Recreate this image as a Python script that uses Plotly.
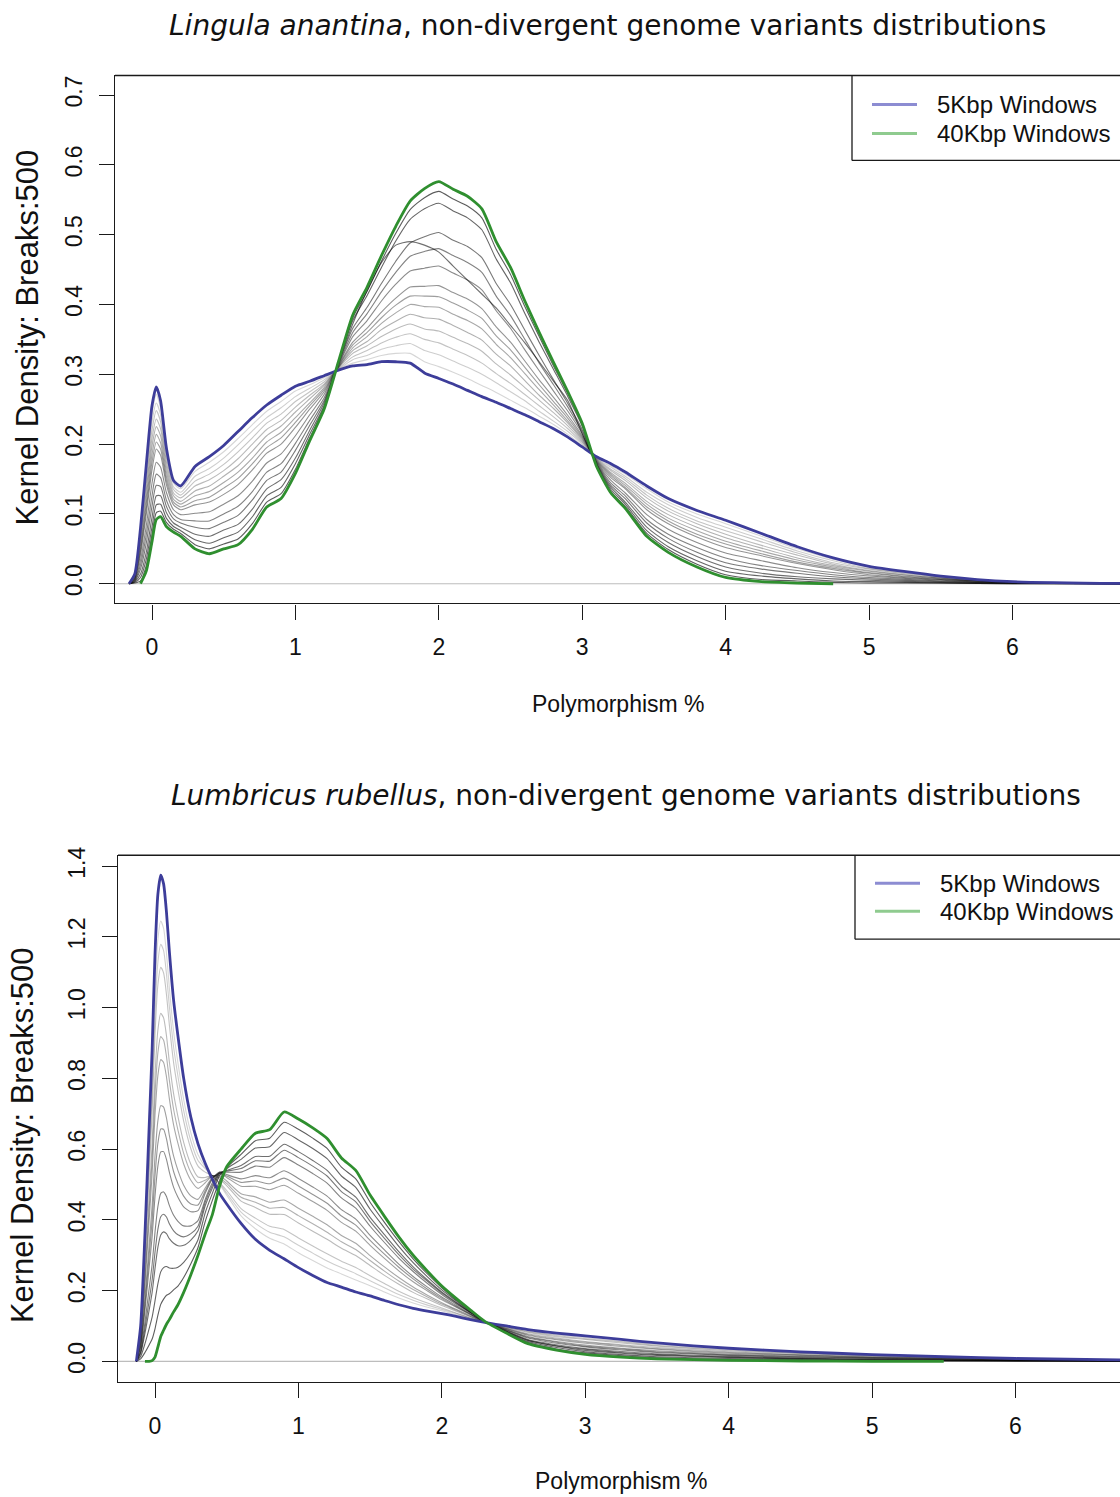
import plotly.graph_objects as go

W, H = 1120, 1497

# ---------------- Lingula anantina ----------------
LA_X = [-0.16, -0.12, -0.08, -0.04, 0.0, 0.03, 0.06, 0.1, 0.15, 0.2, 0.3, 0.4, 0.5, 0.6, 0.7,
        0.8, 0.9, 1.0, 1.1, 1.2, 1.3, 1.4, 1.5, 1.6, 1.7, 1.8, 1.9, 2.0, 2.1, 2.2, 2.3, 2.4,
        2.5, 2.6, 2.7, 2.8, 2.9, 3.0, 3.1, 3.2, 3.3, 3.45, 3.6, 3.8, 4.0, 4.25, 4.5, 4.75,
        5.0, 5.5, 6.0, 6.76]
LA_5K = [0.0, 0.014, 0.08, 0.17, 0.255, 0.282, 0.262, 0.195, 0.148, 0.14, 0.168, 0.182, 0.198,
         0.218, 0.238, 0.256, 0.27, 0.283, 0.29, 0.298, 0.306, 0.312, 0.314, 0.318, 0.318, 0.316,
         0.302, 0.294, 0.286, 0.277, 0.268, 0.26, 0.251, 0.242, 0.232, 0.222, 0.21, 0.196, 0.182,
         0.172, 0.16, 0.14, 0.122, 0.105, 0.091, 0.072, 0.053, 0.037, 0.025, 0.011, 0.003, 0.0005]
LA_40K = [None, None, 0.0, 0.018, 0.06, 0.092, 0.096, 0.082, 0.074, 0.068, 0.05, 0.043, 0.05,
          0.056, 0.078, 0.11, 0.122, 0.158, 0.205, 0.25, 0.318, 0.385, 0.425, 0.47, 0.512, 0.548,
          0.566, 0.576, 0.565, 0.555, 0.537, 0.49, 0.453, 0.405, 0.36, 0.317, 0.275, 0.23, 0.168,
          0.13, 0.108, 0.068, 0.045, 0.024, 0.009, 0.003, 0.001, 0.0, None, None, None, None]
# intermediate window sizes, smallest to largest
LA_MID = [
    [0, 0.013, 0.075, 0.161, 0.243, 0.271, 0.252, 0.188, 0.144, 0.136, 0.161, 0.174, 0.189, 0.208,
     0.228, 0.247, 0.261, 0.276, 0.285, 0.295, 0.307, 0.316, 0.321, 0.327, 0.33, 0.33, 0.318,
     0.311, 0.303, 0.294, 0.284, 0.274, 0.263, 0.252, 0.24, 0.228, 0.214, 0.198, 0.181, 0.169,
     0.157, 0.136, 0.117, 0.1, 0.086, 0.068, 0.05, 0.035, 0.024, 0.01, 0.003, 0.0],
    [0, 0.012, 0.070, 0.152, 0.232, 0.259, 0.242, 0.181, 0.139, 0.131, 0.154, 0.165, 0.18, 0.199,
     0.219, 0.238, 0.252, 0.268, 0.28, 0.292, 0.307, 0.321, 0.327, 0.336, 0.341, 0.344, 0.334,
     0.328, 0.319, 0.31, 0.3, 0.288, 0.275, 0.262, 0.247, 0.233, 0.218, 0.2, 0.18, 0.167, 0.154,
     0.131, 0.113, 0.095, 0.081, 0.064, 0.047, 0.033, 0.022, 0.01, 0.003, 0.0],
    [0, 0.011, 0.066, 0.143, 0.22, 0.248, 0.232, 0.175, 0.135, 0.127, 0.147, 0.157, 0.171, 0.189,
     0.209, 0.23, 0.243, 0.261, 0.275, 0.289, 0.308, 0.325, 0.334, 0.345, 0.353, 0.358, 0.35,
     0.345, 0.336, 0.327, 0.316, 0.301, 0.287, 0.271, 0.255, 0.239, 0.222, 0.202, 0.18, 0.164,
     0.151, 0.127, 0.108, 0.09, 0.076, 0.06, 0.044, 0.03, 0.021, 0.009, 0.002, 0.0],
    [0, 0.011, 0.061, 0.134, 0.208, 0.236, 0.222, 0.168, 0.130, 0.123, 0.140, 0.149, 0.162, 0.179,
     0.2, 0.221, 0.234, 0.253, 0.27, 0.286, 0.309, 0.33, 0.341, 0.354, 0.365, 0.372, 0.365, 0.362,
     0.353, 0.344, 0.333, 0.315, 0.299, 0.281, 0.263, 0.245, 0.226, 0.204, 0.179, 0.162, 0.148,
     0.123, 0.104, 0.086, 0.071, 0.055, 0.041, 0.028, 0.019, 0.008, 0.002, 0.0],
    [0, 0.01, 0.056, 0.124, 0.197, 0.225, 0.212, 0.161, 0.126, 0.118, 0.133, 0.14, 0.154, 0.169,
     0.19, 0.212, 0.226, 0.246, 0.265, 0.284, 0.31, 0.334, 0.347, 0.364, 0.376, 0.386, 0.381,
     0.379, 0.37, 0.36, 0.349, 0.329, 0.312, 0.291, 0.27, 0.251, 0.23, 0.206, 0.178, 0.159, 0.144,
     0.118, 0.099, 0.081, 0.066, 0.051, 0.037, 0.026, 0.018, 0.008, 0.002, 0.0],
    [0, 0.009, 0.051, 0.115, 0.185, 0.214, 0.202, 0.154, 0.121, 0.114, 0.126, 0.132, 0.145, 0.16,
     0.18, 0.203, 0.217, 0.238, 0.259, 0.281, 0.31, 0.338, 0.354, 0.373, 0.388, 0.4, 0.397, 0.396,
     0.386, 0.377, 0.365, 0.343, 0.324, 0.301, 0.278, 0.256, 0.233, 0.208, 0.177, 0.157, 0.141,
     0.114, 0.094, 0.076, 0.061, 0.047, 0.034, 0.024, 0.016, 0.007, 0.002, 0.0],
    [0, 0.008, 0.047, 0.107, 0.174, 0.203, 0.193, 0.148, 0.117, 0.11, 0.119, 0.124, 0.137, 0.151,
     0.172, 0.195, 0.209, 0.231, 0.255, 0.278, 0.311, 0.342, 0.36, 0.381, 0.399, 0.412, 0.412,
     0.411, 0.402, 0.392, 0.38, 0.355, 0.335, 0.31, 0.285, 0.261, 0.237, 0.21, 0.176, 0.155, 0.138,
     0.11, 0.09, 0.071, 0.057, 0.043, 0.031, 0.022, 0.015, 0.006, 0.002, 0.0],
    [0, 0.007, 0.042, 0.099, 0.163, 0.193, 0.184, 0.142, 0.113, 0.106, 0.113, 0.117, 0.128, 0.142,
     0.163, 0.187, 0.2, 0.224, 0.25, 0.275, 0.312, 0.346, 0.366, 0.389, 0.409, 0.425, 0.426, 0.427,
     0.417, 0.408, 0.394, 0.368, 0.346, 0.319, 0.292, 0.267, 0.241, 0.212, 0.175, 0.152, 0.136,
     0.106, 0.086, 0.067, 0.052, 0.04, 0.029, 0.02, 0.013, 0.006, 0.002, 0.0],
    [0, 0.006, 0.034, 0.083, 0.144, 0.174, 0.167, 0.131, 0.106, 0.099, 0.101, 0.103, 0.114, 0.126,
     0.147, 0.173, 0.186, 0.212, 0.242, 0.271, 0.313, 0.354, 0.377, 0.405, 0.429, 0.448, 0.452,
     0.455, 0.445, 0.435, 0.421, 0.391, 0.366, 0.335, 0.305, 0.276, 0.247, 0.215, 0.174, 0.148,
     0.13, 0.099, 0.078, 0.059, 0.044, 0.033, 0.023, 0.016, 0.011, 0.005, 0.001, 0.0],
    [0, 0.005, 0.027, 0.07, 0.126, 0.157, 0.152, 0.12, 0.099, 0.092, 0.09, 0.09, 0.1, 0.111, 0.132,
     0.16, 0.172, 0.201, 0.234, 0.266, 0.314, 0.36, 0.387, 0.418, 0.446, 0.469, 0.476, 0.48, 0.47,
     0.46, 0.446, 0.412, 0.384, 0.35, 0.316, 0.285, 0.253, 0.218, 0.173, 0.144, 0.126, 0.092,
     0.071, 0.052, 0.037, 0.026, 0.019, 0.013, 0.009, 0.004, 0.001, 0.0],
    [0, 0.004, 0.021, 0.058, 0.111, 0.141, 0.139, 0.111, 0.093, 0.087, 0.081, 0.079, 0.088, 0.098,
     0.12, 0.148, 0.16, 0.191, 0.227, 0.262, 0.315, 0.366, 0.396, 0.43, 0.462, 0.488, 0.497, 0.503,
     0.492, 0.483, 0.467, 0.43, 0.4, 0.363, 0.327, 0.292, 0.258, 0.221, 0.172, 0.141, 0.122, 0.087,
     0.065, 0.045, 0.03, 0.021, 0.015, 0.01, 0.007, 0.003, 0.001, 0.0],
    [0, 0.003, 0.014, 0.045, 0.095, 0.126, 0.126, 0.102, 0.087, 0.081, 0.071, 0.068, 0.077, 0.085,
     0.107, 0.136, 0.149, 0.18, 0.22, 0.259, 0.316, 0.372, 0.42, 0.46, 0.485, 0.49, 0.485, 0.475,
     0.455, 0.435, 0.415, 0.395, 0.37, 0.345, 0.318, 0.29, 0.262, 0.215, 0.171, 0.138, 0.117,
     0.081, 0.059, 0.039, 0.024, 0.015, 0.01, 0.007, 0.005, 0.002, 0.001, 0.0],
    [0, 0.002, 0.009, 0.035, 0.081, 0.113, 0.114, 0.094, 0.082, 0.076, 0.063, 0.058, 0.066, 0.074,
     0.096, 0.126, 0.138, 0.172, 0.214, 0.255, 0.317, 0.377, 0.413, 0.453, 0.491, 0.522, 0.537,
     0.545, 0.534, 0.524, 0.507, 0.465, 0.431, 0.387, 0.346, 0.307, 0.268, 0.226, 0.17, 0.135,
     0.114, 0.076, 0.053, 0.033, 0.018, 0.011, 0.007, 0.004, 0.003, 0.001, 0.0, 0.0],
    [0, 0.001, 0.004, 0.026, 0.07, 0.102, 0.104, 0.088, 0.078, 0.072, 0.056, 0.05, 0.057, 0.064,
     0.086, 0.117, 0.129, 0.164, 0.209, 0.252, 0.317, 0.381, 0.419, 0.462, 0.502, 0.536, 0.553,
     0.562, 0.551, 0.541, 0.524, 0.479, 0.443, 0.397, 0.354, 0.312, 0.272, 0.228, 0.169, 0.132,
     0.111, 0.072, 0.049, 0.028, 0.013, 0.006, 0.004, 0.002, 0.001, 0.001, 0.0, 0.0],
]
LA_YTICKS = [0.0, 0.1, 0.2, 0.3, 0.4, 0.5, 0.6, 0.7]

# ---------------- Lumbricus rubellus ----------------
LR_X = [-0.13, -0.1, -0.07, -0.04, -0.02, 0.0, 0.02, 0.04, 0.06, 0.08, 0.1, 0.13, 0.16, 0.2,
        0.25, 0.3, 0.35, 0.4, 0.45, 0.5, 0.6, 0.7, 0.8, 0.9, 1.0, 1.1, 1.2, 1.3, 1.4, 1.5, 1.6,
        1.7, 1.8, 1.9, 2.0, 2.1, 2.2, 2.3, 2.45, 2.6, 2.8, 3.0, 3.25, 3.5, 4.0, 4.5, 5.0, 5.5,
        6.0, 6.76]
LR_5K = [0.0, 0.1, 0.36, 0.67, 0.88, 1.15, 1.32, 1.375, 1.35, 1.27, 1.16, 1.02, 0.92, 0.8, 0.69,
         0.615, 0.56, 0.515, 0.475, 0.445, 0.39, 0.345, 0.314, 0.29, 0.265, 0.243, 0.223, 0.21,
         0.196, 0.185, 0.172, 0.16, 0.15, 0.142, 0.135, 0.127, 0.118, 0.11, 0.1, 0.09, 0.08, 0.072,
         0.062, 0.052, 0.037, 0.027, 0.019, 0.013, 0.008, 0.004]
LR_40K = [None, None, 0.0, 0.0, 0.002, 0.012, 0.04, 0.07, 0.088, 0.105, 0.118, 0.14, 0.16, 0.195,
          0.245, 0.3, 0.36, 0.415, 0.495, 0.55, 0.6, 0.645, 0.655, 0.705, 0.685, 0.66, 0.63, 0.575,
          0.54, 0.47, 0.41, 0.352, 0.3, 0.255, 0.213, 0.178, 0.145, 0.113, 0.08, 0.05, 0.032, 0.02,
          0.012, 0.007, 0.003, 0.001, 0.0, 0.0, None, None]
LR_MID = [
    [0, 0.09, 0.324, 0.603, 0.792, 1.036, 1.192, 1.245, 1.224, 1.154, 1.056, 0.932, 0.844, 0.74,
     0.646, 0.584, 0.55, 0.525, 0.5, 0.47, 0.411, 0.375, 0.348, 0.332, 0.307, 0.285, 0.264,
     0.247, 0.23, 0.214, 0.196, 0.179, 0.165, 0.153, 0.143, 0.132, 0.121, 0.11, 0.098, 0.086,
     0.075, 0.067, 0.057, 0.048, 0.034, 0.024, 0.017, 0.012, 0.007, 0.004],
    [0, 0.085, 0.306, 0.57, 0.748, 0.979, 1.128, 1.179, 1.161, 1.095, 1.004, 0.888, 0.806, 0.709,
     0.623, 0.568, 0.545, 0.525, 0.503, 0.476, 0.422, 0.39, 0.365, 0.352, 0.328, 0.306, 0.284,
     0.265, 0.248, 0.228, 0.208, 0.189, 0.173, 0.159, 0.147, 0.135, 0.122, 0.11, 0.097, 0.084,
     0.073, 0.064, 0.055, 0.045, 0.032, 0.023, 0.016, 0.011, 0.007, 0.003],
    [0, 0.08, 0.288, 0.536, 0.704, 0.922, 1.064, 1.114, 1.098, 1.037, 0.952, 0.844, 0.768, 0.679,
     0.601, 0.552, 0.535, 0.525, 0.505, 0.483, 0.432, 0.405, 0.382, 0.373, 0.349, 0.326, 0.304,
     0.283, 0.265, 0.242, 0.22, 0.198, 0.18, 0.165, 0.151, 0.137, 0.123, 0.111, 0.096, 0.082,
     0.07, 0.062, 0.052, 0.043, 0.03, 0.022, 0.015, 0.01, 0.006, 0.003],
    [0, 0.07, 0.252, 0.469, 0.617, 0.809, 0.936, 0.984, 0.971, 0.921, 0.847, 0.756, 0.692, 0.619,
     0.557, 0.521, 0.52, 0.525, 0.515, 0.497, 0.453, 0.435, 0.416, 0.415, 0.391, 0.368, 0.345, 0.32,
     0.299, 0.271, 0.243, 0.218, 0.195, 0.176, 0.158, 0.142, 0.126, 0.111, 0.094, 0.078, 0.066,
     0.056, 0.047, 0.039, 0.027, 0.019, 0.013, 0.009, 0.006, 0.003],
    [0, 0.065, 0.234, 0.436, 0.573, 0.752, 0.872, 0.918, 0.908, 0.862, 0.795, 0.712, 0.654, 0.588,
     0.534, 0.505, 0.512, 0.525, 0.52, 0.503, 0.464, 0.45, 0.433, 0.435, 0.412, 0.389, 0.365,
     0.338, 0.316, 0.285, 0.255, 0.227, 0.203, 0.182, 0.162, 0.145, 0.127, 0.111, 0.093, 0.076,
     0.063, 0.054, 0.045, 0.036, 0.025, 0.018, 0.012, 0.008, 0.005, 0.003],
    [0, 0.06, 0.216, 0.402, 0.529, 0.695, 0.808, 0.853, 0.845, 0.804, 0.743, 0.668, 0.616, 0.558,
     0.512, 0.489, 0.505, 0.525, 0.525, 0.51, 0.474, 0.465, 0.45, 0.456, 0.433, 0.41, 0.386, 0.356,
     0.334, 0.299, 0.267, 0.237, 0.21, 0.187, 0.166, 0.147, 0.129, 0.111, 0.092, 0.074, 0.061,
     0.051, 0.042, 0.034, 0.023, 0.017, 0.011, 0.008, 0.005, 0.002],
    [0, 0.05, 0.18, 0.335, 0.441, 0.581, 0.68, 0.723, 0.719, 0.688, 0.639, 0.58, 0.54, 0.498,
     0.468, 0.458, 0.49, 0.52, 0.53, 0.52, 0.495, 0.495, 0.485, 0.498, 0.475, 0.452, 0.427,
     0.393, 0.368, 0.328, 0.291, 0.256, 0.225, 0.199, 0.174, 0.153, 0.132, 0.112, 0.09, 0.07,
     0.056, 0.046, 0.037, 0.03, 0.02, 0.014, 0.01, 0.007, 0.004, 0.002],
    [0, 0.045, 0.162, 0.302, 0.397, 0.524, 0.616, 0.657, 0.656, 0.629, 0.587, 0.536, 0.502, 0.467,
     0.445, 0.442, 0.482, 0.518, 0.532, 0.524, 0.506, 0.51, 0.502, 0.518, 0.496, 0.472, 0.447,
     0.411, 0.385, 0.342, 0.303, 0.266, 0.233, 0.204, 0.178, 0.155, 0.133, 0.112, 0.089, 0.068,
     0.054, 0.043, 0.035, 0.027, 0.018, 0.013, 0.009, 0.006, 0.004, 0.002],
    [0, 0.04, 0.144, 0.268, 0.353, 0.467, 0.552, 0.592, 0.593, 0.571, 0.535, 0.492, 0.464, 0.437,
     0.423, 0.426, 0.475, 0.515, 0.535, 0.528, 0.516, 0.525, 0.519, 0.539, 0.517, 0.493, 0.467,
     0.429, 0.402, 0.356, 0.315, 0.275, 0.24, 0.21, 0.182, 0.158, 0.134, 0.112, 0.088, 0.066,
     0.051, 0.041, 0.032, 0.025, 0.017, 0.011, 0.008, 0.005, 0.003, 0.002],
    [0, 0.031, 0.112, 0.208, 0.274, 0.365, 0.437, 0.475, 0.479, 0.466, 0.441, 0.413, 0.396, 0.383,
     0.383, 0.398, 0.458, 0.505, 0.535, 0.535, 0.535, 0.552, 0.549, 0.576, 0.555, 0.531, 0.504,
     0.462, 0.433, 0.382, 0.336, 0.292, 0.254, 0.22, 0.189, 0.162, 0.137, 0.112, 0.086, 0.062,
     0.047, 0.036, 0.028, 0.021, 0.014, 0.009, 0.006, 0.004, 0.002, 0.001],
    [0, 0.026, 0.094, 0.174, 0.23, 0.308, 0.373, 0.409, 0.416, 0.408, 0.389, 0.369, 0.358, 0.352,
     0.361, 0.382, 0.45, 0.498, 0.533, 0.538, 0.545, 0.567, 0.566, 0.597, 0.576, 0.552, 0.524,
     0.48, 0.451, 0.396, 0.348, 0.302, 0.261, 0.226, 0.193, 0.165, 0.138, 0.112, 0.085, 0.06,
     0.044, 0.034, 0.025, 0.019, 0.012, 0.008, 0.005, 0.003, 0.002, 0.001],
    [0, 0.022, 0.079, 0.147, 0.195, 0.262, 0.322, 0.357, 0.366, 0.361, 0.347, 0.334, 0.327, 0.328,
     0.343, 0.369, 0.44, 0.49, 0.53, 0.54, 0.554, 0.579, 0.58, 0.614, 0.593, 0.568, 0.54,
     0.495, 0.464, 0.407, 0.358, 0.31, 0.267, 0.23, 0.196, 0.167, 0.139, 0.112, 0.084, 0.059,
     0.043, 0.031, 0.023, 0.017, 0.011, 0.007, 0.004, 0.003, 0.002, 0.001],
    [0, 0.014, 0.05, 0.094, 0.125, 0.171, 0.219, 0.253, 0.265, 0.268, 0.264, 0.263, 0.266, 0.28,
     0.307, 0.344, 0.42, 0.475, 0.525, 0.545, 0.571, 0.603, 0.607, 0.647, 0.626, 0.602, 0.573,
     0.524, 0.492, 0.43, 0.377, 0.325, 0.279, 0.239, 0.202, 0.171, 0.141, 0.113, 0.083, 0.056,
     0.039, 0.027, 0.019, 0.013, 0.008, 0.005, 0.003, 0.002, 0.001, 0.001],
    [0, 0.007, 0.025, 0.047, 0.063, 0.092, 0.13, 0.161, 0.176, 0.187, 0.191, 0.202, 0.213, 0.237,
     0.276, 0.322, 0.395, 0.455, 0.51, 0.548, 0.585, 0.624, 0.631, 0.676, 0.656, 0.631, 0.602,
     0.549, 0.516, 0.45, 0.393, 0.339, 0.29, 0.247, 0.208, 0.174, 0.143, 0.113, 0.081, 0.053,
     0.035, 0.024, 0.016, 0.01, 0.005, 0.003, 0.001, 0.001, 0.001, 0.0],
]
LR_YTICKS = [0.0, 0.2, 0.4, 0.6, 0.8, 1.0, 1.2, 1.4]

X_TICKS = [0, 1, 2, 3, 4, 5, 6]
TITLES = ["<i>Lingula anantina</i>, non-divergent genome variants distributions",
          "<i>Lumbricus rubellus</i>, non-divergent genome variants distributions"]
SERIES_NAMES = ["5Kbp Windows", "40Kbp Windows"]
Y_LABEL = "Kernel Density: Breaks:500"
X_LABEL = "Polymorphism %"

BLUE = "#3d3d9a"
GREEN = "#2f8f2f"
BLUE_KEY = "#8c8cd2"
GREEN_KEY = "#8fcb8f"
AXIS_COLOR = "#1a1a1a"
TXT = "#111111"
SANS = "Liberation Sans, Arial, sans-serif"

# vertical placement helper: pixel rows of the page -> paper fraction
Y_OFF = 8.5


def px(x):
    return x / W


def py(y):
    yy = (y - Y_OFF) * H / (H - Y_OFF)
    return 1 - yy / H


fig = go.Figure()

panels = [
    dict(x=LA_X, lo=LA_5K, hi=LA_40K, mid=LA_MID, yt=LA_YTICKS, left=115, top=75, bottom=603,
         xr=[-0.258, 6.75], yr=[-0.028, 0.728], title_xy=(607, 25), xlab_xy=(618, 704),
         ylab_xy=(27, 337), key=dict(left=852, top=75, bottom=160, y1=104, y2=133,
                                     lx0=872, lx1=917, tx=935)),
    dict(x=LR_X, lo=LR_5K, hi=LR_40K, mid=LR_MID, yt=LR_YTICKS, left=118, top=855, bottom=1382,
         xr=[-0.258, 6.729], yr=[-0.0585, 1.431], title_xy=(626, 795), xlab_xy=(621, 1481),
         ylab_xy=(22, 1135), key=dict(left=855, top=855, bottom=939, y1=883, y2=911,
                                      lx0=875, lx1=920, tx=938)),
]

shapes = []
annotations = []

for i, p in enumerate(panels, start=1):
    xa = "x" if i == 1 else f"x{i}"
    ya = "y" if i == 1 else f"y{i}"

    n = len(p["mid"])
    for k, ys in enumerate(p["mid"]):
        a = 0.16 + 0.48 * k / (n - 1)
        fig.add_trace(go.Scatter(
            x=p["x"], y=ys, mode="lines", xaxis=xa, yaxis=ya,
            line=dict(color=f"rgba(0,0,0,{a:.3f})", width=1.1, shape="spline", smoothing=0.6),
            hoverinfo="skip", showlegend=False))
    fig.add_trace(go.Scatter(
        x=p["x"], y=p["lo"], mode="lines", xaxis=xa, yaxis=ya, name=SERIES_NAMES[0],
        line=dict(color=BLUE, width=2.8, shape="spline", smoothing=0.6),
        hoverinfo="skip", showlegend=False))
    fig.add_trace(go.Scatter(
        x=p["x"], y=p["hi"], mode="lines", xaxis=xa, yaxis=ya, name=SERIES_NAMES[1],
        line=dict(color=GREEN, width=2.8, shape="spline", smoothing=0.6),
        hoverinfo="skip", showlegend=False))

    axis_common = dict(showline=True, linecolor=AXIS_COLOR, linewidth=1.4, mirror=False,
                       ticks="outside", ticklen=15, tickwidth=1.4, tickcolor=AXIS_COLOR,
                       showgrid=False, zeroline=False,
                       tickfont=dict(family=SANS, size=23, color=TXT))
    xkey = "xaxis" if i == 1 else f"xaxis{i}"
    ykey = "yaxis" if i == 1 else f"yaxis{i}"
    fig.update_layout(**{
        xkey: dict(domain=[px(p["left"]), 1.0], range=p["xr"], anchor=ya,
                   tickvals=X_TICKS, ticktext=[str(v) for v in X_TICKS],
                   ticklabelstandoff=8, **axis_common),
        ykey: dict(domain=[py(p["bottom"]), py(p["top"])], range=p["yr"], anchor=xa,
                   tickvals=p["yt"], ticktext=[f"{v:.1f}" for v in p["yt"]],
                   tickangle=-90, ticklabelstandoff=8, **axis_common),
    })

    # top edge of the plot frame
    shapes.append(dict(type="line", xref=f"{xa} domain", yref=f"{ya} domain",
                       x0=0, x1=1, y0=1, y1=1, line=dict(color=AXIS_COLOR, width=1.4)))
    # horizontal reference at zero density
    shapes.append(dict(type="line", xref=f"{xa} domain", yref=ya, x0=0, x1=1, y0=0, y1=0,
                       line=dict(color="#bdbdbd", width=1.2), layer="below"))

    # legend box (open towards the right edge)
    kk = p["key"]
    shapes.append(dict(type="line", xref="paper", yref="paper",
                       x0=px(kk["left"]), x1=px(kk["left"]), y0=py(kk["top"]), y1=py(kk["bottom"]),
                       line=dict(color=AXIS_COLOR, width=1.3)))
    shapes.append(dict(type="line", xref="paper", yref="paper",
                       x0=px(kk["left"]), x1=1.0, y0=py(kk["bottom"]), y1=py(kk["bottom"]),
                       line=dict(color=AXIS_COLOR, width=1.3)))
    for yy, col, label in [(kk["y1"], BLUE_KEY, SERIES_NAMES[0]), (kk["y2"], GREEN_KEY, SERIES_NAMES[1])]:
        shapes.append(dict(type="line", xref="paper", yref="paper",
                           x0=px(kk["lx0"]), x1=px(kk["lx1"]), y0=py(yy), y1=py(yy),
                           line=dict(color=col, width=3)))
        annotations.append(dict(xref="paper", yref="paper", x=px(kk["tx"]), y=py(yy),
                                xanchor="left", yanchor="middle", showarrow=False, text=label,
                                font=dict(family=SANS, size=24, color=TXT)))

    tx, ty = p["title_xy"]
    annotations.append(dict(xref="paper", yref="paper", x=px(tx), y=py(ty), xanchor="center",
                            yanchor="middle", showarrow=False, text=TITLES[i - 1],
                            font=dict(family="DejaVu Sans, sans-serif", size=28, color=TXT)))
    lx, ly = p["xlab_xy"]
    annotations.append(dict(xref="paper", yref="paper", x=px(lx), y=py(ly), xanchor="center",
                            yanchor="middle", showarrow=False, text=X_LABEL,
                            font=dict(family=SANS, size=23, color=TXT)))
    yx, yy = p["ylab_xy"]
    annotations.append(dict(xref="paper", yref="paper", x=px(yx), y=py(yy), xanchor="center",
                            yanchor="middle", showarrow=False, text=Y_LABEL, textangle=-90,
                            font=dict(family=SANS, size=31, color=TXT)))

fig.update_layout(width=W, height=H, autosize=False,
                  margin=dict(l=0, r=0, t=0, b=0),
                  paper_bgcolor="white", plot_bgcolor="white",
                  shapes=shapes, annotations=annotations, showlegend=False)

fig.write_html("out.html", config={"displayModeBar": False})
